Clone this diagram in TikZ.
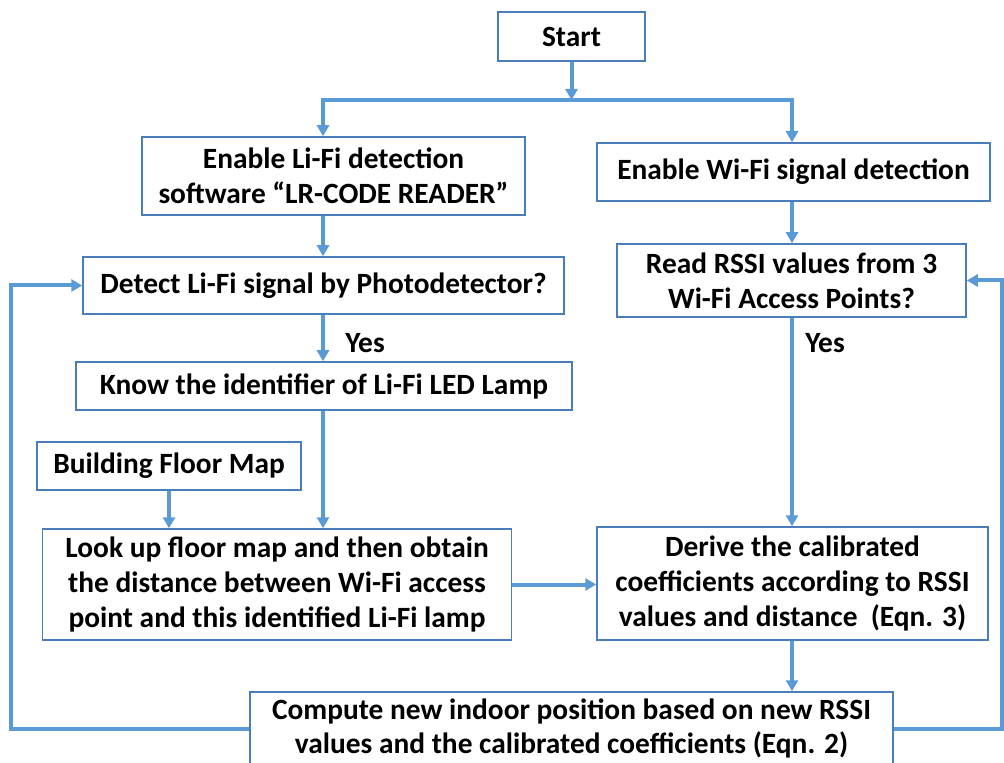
\documentclass[tikz,border=0pt]{standalone}
\usepackage{fontspec}
\setmainfont{Carlito}
\usepackage{xcolor}
\usepackage{tikz}
\usetikzlibrary{arrows.meta}

\definecolor{boxblue}{HTML}{4A7EBB}
\definecolor{linkblue}{HTML}{5B9BD5}

\begin{document}
\begin{tikzpicture}[
  x=0.5pt, y=-0.5pt,
  font=\fontsize{14.7}{17.3}\selectfont\bfseries,
  box/.style={rectangle, draw=boxblue, line width=0.75pt, fill=white, align=center, inner sep=0pt},
  arrow/.style={-{Triangle[length=5.5pt,width=6pt]}, draw=linkblue, line width=2pt},
  label/.style={inner sep=0pt}
]
\useasboundingbox (0,0) rectangle (1004,763);

\node[box, minimum width=73.5pt, minimum height=24.5pt] (start) at (571.5,36.5) {Start};
\node[box, minimum width=191.5pt, minimum height=39pt] (lifi) at (333.5,176) {Enable Li-Fi detection\\software ``LR-CODE READER''};
\node[box, minimum width=196.5pt, minimum height=29pt] (wifi) at (793.5,172) {Enable Wi-Fi signal detection};
\node[box, minimum width=240.5pt, minimum height=28.5pt] (detect) at (323.5,285.5) {Detect Li-Fi signal by Photodetector?};
\node[box, minimum width=174.5pt, minimum height=36.5pt] (rssi) at (791.5,280.5) {Read RSSI values from 3\\Wi-Fi Access Points?};
\node[box, minimum width=248pt, minimum height=24pt] (know) at (324,386) {Know the identifier of Li-Fi LED Lamp};
\node[box, minimum width=132pt, minimum height=24pt] (floor) at (169,466) {Building Floor Map};
\node[box, minimum width=234.5pt, minimum height=55.5pt] (lookup) at (277,584.5) {Look up floor map and then obtain\\the distance between Wi-Fi access\\point and this identified Li-Fi lamp};
\node[box, minimum width=195.5pt, minimum height=56.5pt] (derive) at (792.5,583.5) {Derive the calibrated\\coefficients according to RSSI\\values and distance~~(Eqn. 3)};
\node[box, minimum width=321.5pt, minimum height=36.5pt] (compute) at (571.5,728.5) {Compute new indoor position based on new RSSI\\values and the calibrated coefficients (Eqn. 2)};

\node[label] (yesL) at (365,343) {Yes};
\node[label] (yesR) at (825,343) {Yes};

\coordinate (split) at (571.5,100);
\coordinate (splitL) at (323,100);
\coordinate (splitR) at (792,100);
\coordinate (loopL) at (11,728.5);
\coordinate (loopR) at (1002,728.5);

\draw[arrow] (start) -- (split);
\draw[arrow] (split) -- (splitL) -- (splitL |- lifi.north);
\draw[arrow] (split) -- (splitR) -- (splitR |- wifi.north);
\draw[arrow] (lifi.south -| splitL) -- (splitL |- detect.north);
\draw[arrow] (wifi.south -| splitR) -- (splitR |- rssi.north);
\draw[arrow] (detect.south -| splitL) -- (splitL |- know.north);
\draw[arrow] (rssi.south -| splitR) -- (splitR |- derive.north);
\draw[arrow] (know.south -| splitL) -- (splitL |- lookup.north);
\draw[arrow] (floor) -- (floor |- lookup.north);
\draw[arrow] (lookup.east) -- (lookup.east -| derive.west);
\draw[arrow] (derive.south -| splitR) -- (splitR |- compute.north);
\draw[arrow] (compute.west) -- (loopL) |- (detect.west);
\draw[arrow] (compute.east) -- (loopR) |- (rssi.east);

\end{tikzpicture}
\end{document}
